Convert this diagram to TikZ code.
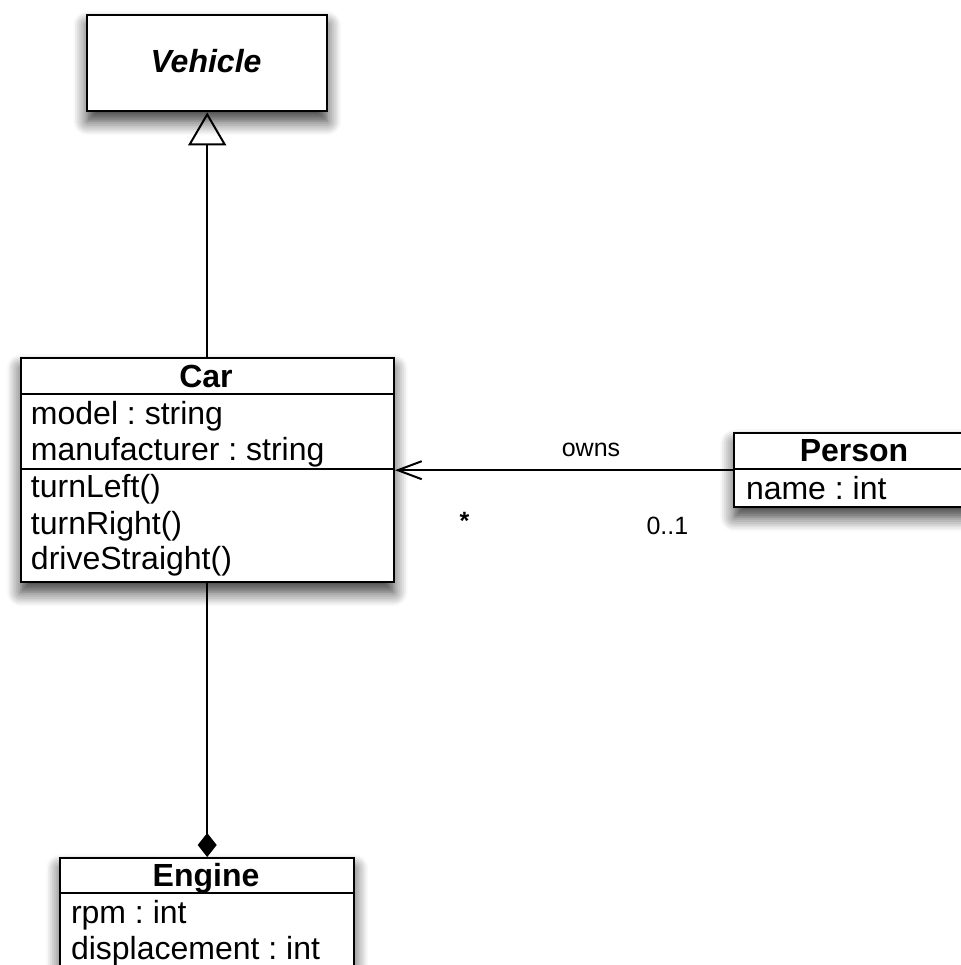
\documentclass[tikz,border=0pt]{standalone}
\usepackage{fontspec}
\setmainfont{Liberation Sans}
\usetikzlibrary{arrows.meta,shadows.blur}
\frenchspacing

\begin{document}
\begin{tikzpicture}[x=0.5pt, y=-0.5pt, line width=1pt,
		class_style/.style={draw=black, line width=1.2pt, fill=white, inner sep=0pt, anchor=north west,
			blur shadow={shadow xshift=0pt, shadow yshift=-5pt, shadow blur radius=7pt, shadow blur steps=8, shadow opacity=80}},
		title_style/.style={font=\fontsize{16}{19}\selectfont\bfseries, inner sep=0pt, text height=11.4pt, text depth=0pt},
		member_style/.style={font=\fontsize{16}{19}\selectfont, inner sep=0pt, anchor=west, text height=11.4pt, text depth=0pt},
		label_style/.style={font=\fontsize{12.5}{15}\selectfont, inner sep=0pt},
		sep_style/.style={draw=black, line width=1.2pt},
		gen_edge/.style={draw=black, -{Triangle[open, length=16.5pt, width=19pt]}},
		assoc_edge/.style={draw=black, -{Straight Barb[length=12pt, width=9pt]}},
		comp_edge/.style={draw=black, -{Diamond[length=12pt, width=9.5pt]}}]

		\useasboundingbox (0,0) rectangle (960,965);

		% class boxes
		\node[class_style, minimum width=120pt, minimum height=48pt] (vehicle) at (86,14) {};
		\node[class_style, minimum width=186.5pt, minimum height=112pt] (car) at (19.5,357) {};
		\node[class_style, minimum width=150pt, minimum height=37pt] (person) at (733,432) {};
		\node[class_style, minimum width=147pt, minimum height=75pt] (engine) at (59,857) {};

		% compartments
		\draw[sep_style] (19.5,394) -- (392.5,394);
		\draw[sep_style] (19.5,469) -- (392.5,469);
		\draw[sep_style] (733,469) -- (1030,469);
		\draw[sep_style] (59,893) -- (353,893);

		% names and members
		\node[title_style] (vehicle_name) at (206,61) {\itshape Vehicle};
		\node[title_style] (car_name) at (206,376) {Car};
		\node[member_style] (car_model) at (30,413) {model : string};
		\node[member_style] (car_maker) at (30,449.5) {manufacturer : string};
		\node[member_style] (car_left) at (30,486.5) {turnLeft()};
		\node[member_style] (car_right) at (30,523) {turnRight()};
		\node[member_style] (car_straight) at (30,558) {driveStraight()};
		\node[title_style] (person_name) at (854,450) {Person};
		\node[member_style] (person_attr) at (745,488) {name : int};
		\node[title_style] (engine_name) at (206,875) {Engine};
		\node[member_style] (engine_rpm) at (70,912) {rpm : int};
		\node[member_style] (engine_disp) at (70,948) {displacement : int};

		% relations
		\draw[gen_edge] (car) edge (vehicle);
		\draw[assoc_edge] (person.west) --
			node[label_style, pos=0.42, yshift=10pt] (owns_label) {owns}
			node[label_style, pos=0.794, yshift=-25.5pt] (car_mult) {\textbf{*}}
			node[label_style, pos=0.194, yshift=-28pt] (person_mult) {0..1} (car.east);
		\draw[comp_edge] (car) edge (engine);

\end{tikzpicture}
\end{document}
